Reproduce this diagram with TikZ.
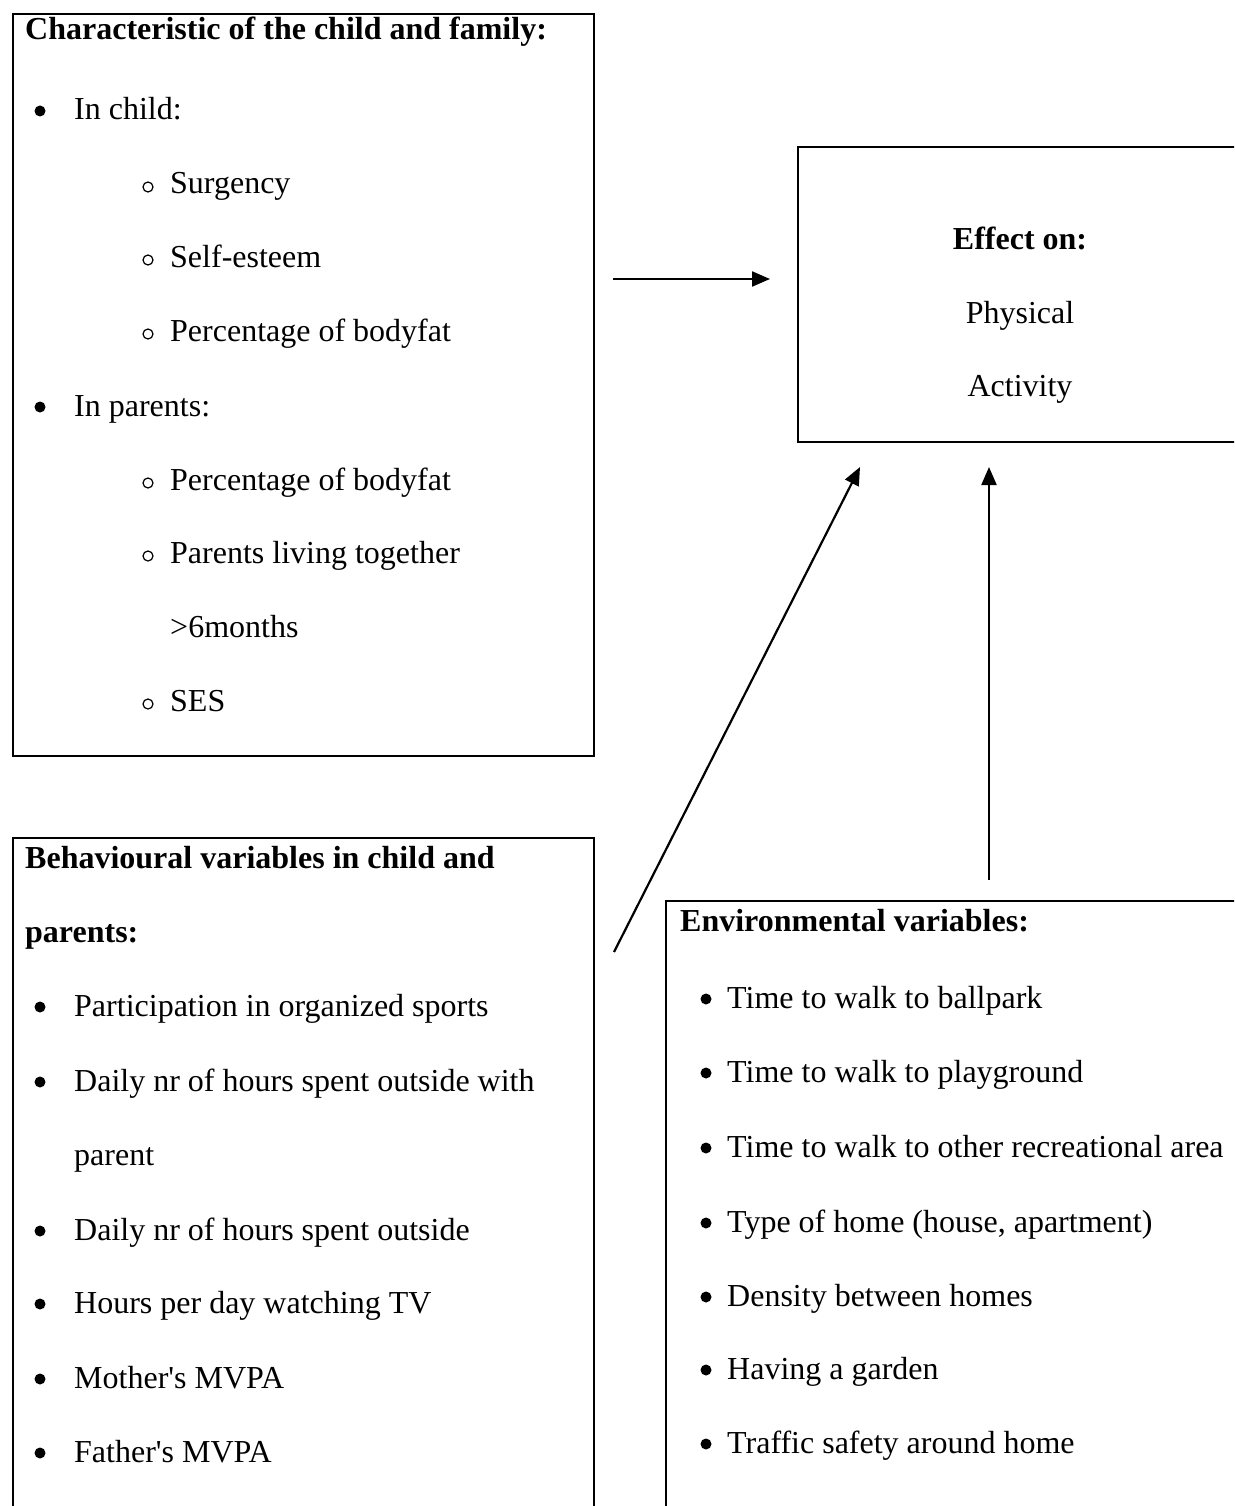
\documentclass[tikz,border=0pt]{standalone}
\usepackage{fontspec}
\setmainfont{Liberation Serif}
\usetikzlibrary{arrows.meta}
\begin{document}
\begin{tikzpicture}[x=1pt,y=1pt,
  box/.style={draw, line width=2.3pt, inner sep=0pt, anchor=north west},
  txt/.style={anchor=base west, inner sep=0pt, font=\fontsize{32}{38}\selectfont},
  ctxt/.style={anchor=base, inner sep=0pt, font=\fontsize{32}{38}\selectfont},
  dot/.style={circle, fill, inner sep=0pt, minimum size=11pt},
  ring/.style={circle, draw, line width=1.2pt, inner sep=0pt, minimum size=10pt},
  arr/.style={-{Triangle[length=18pt,width=15pt]}, line width=2.2pt}]
\clip (0,0) rectangle (1234,-1506);
\fill[white] (0,0) rectangle (1234,-1506);
% boxes
\node[box, minimum width=581pt, minimum height=742pt] (charbox) at (12,-13) {};
\node[box, minimum width=581pt, minimum height=700pt] (behbox) at (12,-837) {};
\node[box, minimum width=620pt, minimum height=640pt] (envbox) at (665,-900) {};
\node[box, minimum width=480pt, minimum height=295pt] (effbox) at (797,-146) {};
% box 1 text
\node[txt, font=\fontsize{32}{38}\selectfont\bfseries] (c0) at (25,-40) {Characteristic of the child and family:};
\node[dot] (cb1) at (40,-111) {};
\node[txt] (c1) at (74,-120) {In child:};
\node[ring] (co1) at (148,-187) {};
\node[txt] (c2) at (170,-194) {Surgency};
\node[ring] (co2) at (148,-260) {};
\node[txt] (c3) at (170,-267) {Self-esteem};
\node[ring] (co3) at (148,-334) {};
\node[txt] (c4) at (170,-341) {Percentage of bodyfat};
\node[dot] (cb2) at (40,-407) {};
\node[txt] (c5) at (74,-416) {In parents:};
\node[ring] (co4) at (148,-483) {};
\node[txt] (c6) at (170,-490) {Percentage of bodyfat};
\node[ring] (co5) at (148,-556) {};
\node[txt] (c7) at (170,-563) {Parents living together};
\node[txt] (c8) at (170,-637) {>6months};
\node[ring] (co6) at (148,-704) {};
\node[txt] (c9) at (170,-711) {SES};
% effect box text
\node[ctxt, font=\fontsize{32}{38}\selectfont\bfseries] (e0) at (1020,-250) {Effect on:};
\node[ctxt] (e1) at (1020,-323) {Physical};
\node[ctxt] (e2) at (1020,-396) {Activity};
% box 2 text
\node[txt, font=\fontsize{32}{38}\selectfont\bfseries] (b0) at (25,-868) {Behavioural variables in child and};
\node[txt, font=\fontsize{32}{38}\selectfont\bfseries] (b0b) at (25,-942) {parents:};
\node[dot] (bb1) at (40,-1007) {};
\node[txt] (b1) at (74,-1016) {Participation in organized sports};
\node[dot] (bb2) at (40,-1082) {};
\node[txt] (b2) at (74,-1091) {Daily nr of hours spent outside with};
\node[txt] (b2b) at (74,-1165) {parent};
\node[dot] (bb3) at (40,-1231) {};
\node[txt] (b3) at (74,-1240) {Daily nr of hours spent outside};
\node[dot] (bb4) at (40,-1304) {};
\node[txt] (b4) at (74,-1313) {Hours per day watching TV};
\node[dot] (bb5) at (40,-1379) {};
\node[txt] (b5) at (74,-1388) {Mother\textquotesingle s MVPA};
\node[dot] (bb6) at (40,-1453) {};
\node[txt] (b6) at (74,-1462) {Father\textquotesingle s MVPA};
% box 3 text
\node[txt, font=\fontsize{32}{38}\selectfont\bfseries] (v0) at (680,-931) {Environmental variables:};
\node[dot] (vb1) at (706,-999) {};
\node[txt] (v1) at (727,-1008) {Time to walk to ballpark};
\node[dot] (vb2) at (706,-1073) {};
\node[txt] (v2) at (727,-1082) {Time to walk to playground};
\node[dot] (vb3) at (706,-1148) {};
\node[txt] (v3) at (727,-1157) {Time to walk to other recreational area};
\node[dot] (vb4) at (706,-1223) {};
\node[txt] (v4) at (727,-1232) {Type of home (house, apartment)};
\node[dot] (vb5) at (706,-1297) {};
\node[txt] (v5) at (727,-1306) {Density between homes};
\node[dot] (vb6) at (706,-1370) {};
\node[txt] (v6) at (727,-1379) {Having a garden};
\node[dot] (vb7) at (706,-1444) {};
\node[txt] (v7) at (727,-1453) {Traffic safety around home};
% arrows
\coordinate (a1s) at (613,-279);
\coordinate (a1e) at (770,-279);
\coordinate (a2s) at (614,-952);
\coordinate (a2e) at (860,-467);
\coordinate (a3s) at (989,-880);
\coordinate (a3e) at (989,-467);
\draw[arr] (a1s) -- (a1e);
\draw[arr] (a2s) -- (a2e);
\draw[arr] (a3s) -- (a3e);
\end{tikzpicture}
\end{document}
